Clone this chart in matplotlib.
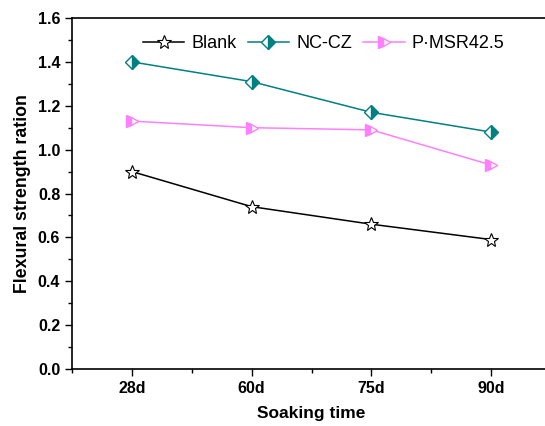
import matplotlib
matplotlib.use("Agg")
import matplotlib.pyplot as plt
from matplotlib.ticker import MultipleLocator, FormatStrFormatter

plt.rcParams["font.family"] = ["Liberation Sans", "DejaVu Sans"]

days = ["28d", "60d", "75d", "90d"]
blank = [0.90, 0.74, 0.66, 0.59]
nc_cz = [1.40, 1.31, 1.17, 1.08]
p_msr = [1.13, 1.10, 1.09, 0.93]

TEAL = "#008080"
PINK = "#ff80ff"

fig = plt.figure(figsize=(5.45, 4.26), dpi=100)
ax = fig.add_axes([72 / 545, 57 / 426, 479 / 545, 351 / 426])

x = list(range(1, len(days) + 1))
ax.plot(x, blank, color="black", lw=1.1, marker="*", ms=10,
        mfc="white", mec="black", mew=0.8, label="Blank")
ax.plot(x, nc_cz, color=TEAL, lw=1.1, marker="D", ms=7.5, fillstyle="right",
        mfc=TEAL, mfcalt="white", mec=TEAL, mew=1.0, label="NC-CZ")
ax.plot(x, p_msr, color=PINK, lw=1.1, marker=">", ms=8.5, fillstyle="left",
        mfc=PINK, mfcalt="white", mec=PINK, mew=1.0, label="P·MSR42.5")

ax.set_xlim(0.5, 4.5)
ax.set_ylim(0, 1.6)
ax.set_xticks(x)
ax.set_xticklabels(days)
ax.xaxis.set_minor_locator(MultipleLocator(0.5))
ax.yaxis.set_major_locator(MultipleLocator(0.2))
ax.yaxis.set_minor_locator(MultipleLocator(0.1))
ax.yaxis.set_major_formatter(FormatStrFormatter("%.1f"))
ax.tick_params(which="major", direction="out", length=5, width=1.0,
               labelsize=11.5)
ax.tick_params(which="minor", direction="out", length=3, width=1.0)
for lab in ax.get_xticklabels() + ax.get_yticklabels():
    lab.set_fontweight("bold")
for sp in ax.spines.values():
    sp.set_linewidth(1.2)

ax.set_xlabel("Soaking time", fontsize=12.5, fontweight="bold", labelpad=7)
ax.set_ylabel("Flexural strength ration", fontsize=12.8, fontweight="bold",
              labelpad=5)

ax.legend(loc="center left", bbox_to_anchor=(0.148, 0.926), ncol=3,
          frameon=False, fontsize=13, handlelength=2.3,
          handletextpad=0.38, columnspacing=0.62, borderaxespad=0,
          borderpad=0)

fig.savefig("out.png", dpi=100)
